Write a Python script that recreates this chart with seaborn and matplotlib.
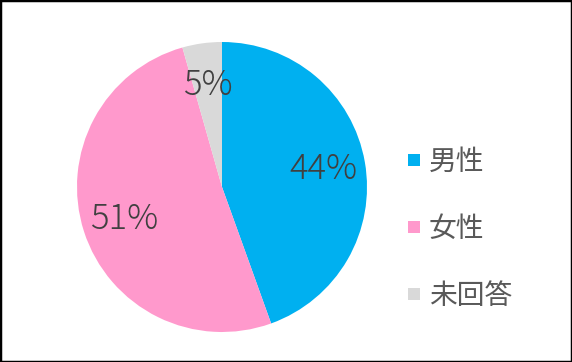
import matplotlib
matplotlib.use("Agg")
import matplotlib.pyplot as plt
from matplotlib.lines import Line2D
from matplotlib.patches import Rectangle
import seaborn as sns

categories = ["男性", "女性", "未回答"]
values = [44.5, 51.1, 4.4]
pct_labels = ["44%", "51%", "5%"]
colors = ["#00B0F0", "#FF99CC", "#D9D9D9"]

sns.set_theme(style="white")
plt.rcParams['font.family'] = ['Noto Sans CJK JP', 'DejaVu Sans']

W, H = 572, 362
fig = plt.figure(figsize=(W / 100, H / 100), dpi=100)
fig.patch.set_facecolor("white")

cx, cy, r = 222, 187, 145
ax = fig.add_axes([(cx - r) / W, (H - cy - r) / H, 2 * r / W, 2 * r / H])
wedges, texts, autotexts = ax.pie(
    values, colors=sns.color_palette(colors), startangle=90, counterclock=False,
    autopct="%.0f%%", pctdistance=0.71,
    wedgeprops=dict(linewidth=0),
    textprops=dict(color="#404040", fontsize=25, fontweight="light"),
)
for t, s in zip(autotexts, pct_labels):
    t.set_text(s)
ax.set_xlim(-1, 1)
ax.set_ylim(-1, 1)
ax.set_aspect("auto")
ax.axis("off")

handles = [Line2D([0], [0], marker="s", linestyle="none", markersize=8,
                  markerfacecolor=c, markeredgewidth=0) for c in colors]
fig.legend(handles, categories, loc="center left",
           bbox_to_anchor=(390 / W, (H - 229) / H), frameon=False,
           fontsize=20, labelcolor="#595959", labelspacing=1.33,
           handletextpad=0.2, handlelength=0.7, borderpad=0)

fig.add_artist(Rectangle((0, 0), 1, 1, transform=fig.transFigure, fill=False,
                         edgecolor="black", linewidth=2.5))

fig.savefig("out.png", dpi=100, facecolor="white")
